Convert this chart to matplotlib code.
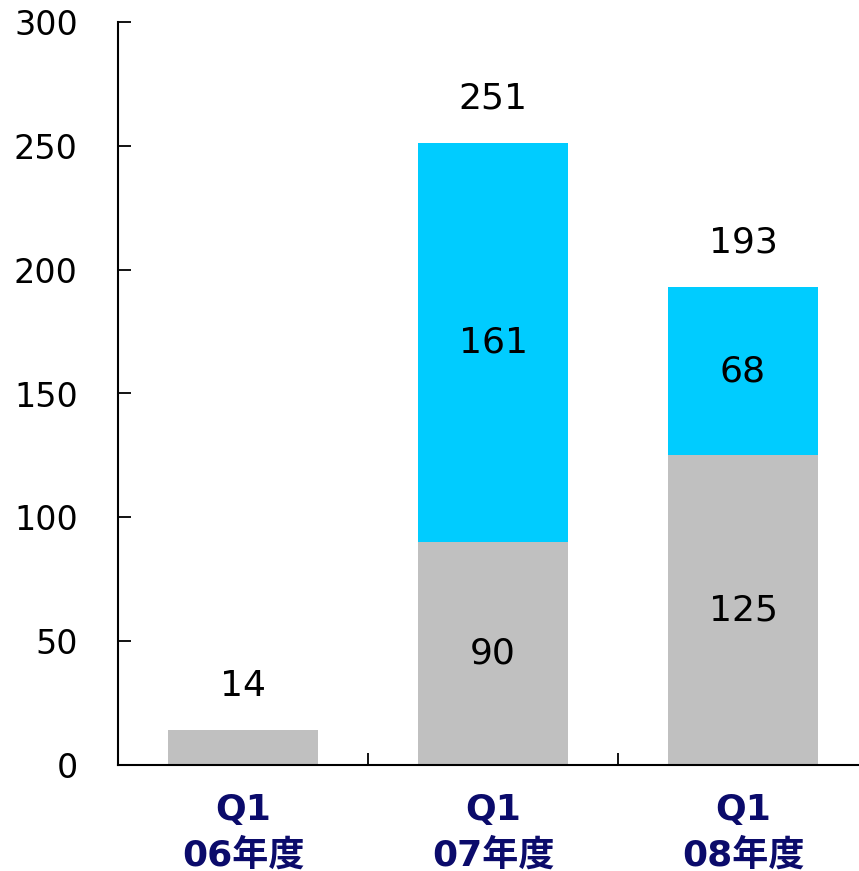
import matplotlib.pyplot as plt

plt.rcParams['font.family'] = ['DejaVu Sans', 'Noto Sans CJK JP']

categories = ["Q1\n06年度", "Q1\n07年度", "Q1\n08年度"]
gray_vals = [14, 90, 125]
cyan_vals = [0, 161, 68]
totals = [14, 251, 193]
yticks = [0, 50, 100, 150, 200, 250, 300]

fig = plt.figure(figsize=(8.59, 8.71), dpi=100)
ax = fig.add_axes([118 / 859, 106 / 871, 741 / 859, 743 / 871])

x = list(range(len(categories)))
ax.bar(x, gray_vals, width=0.6, color="#c0c0c0", zorder=2)
ax.bar(x, cyan_vals, width=0.6, bottom=gray_vals, color="#00ccff", zorder=2)

# labels inside segments and totals on top
for i in x:
    if gray_vals[i] > 0 and cyan_vals[i] > 0:
        ax.text(i, gray_vals[i] / 2, str(gray_vals[i]), ha="center", va="center", fontsize=26)
        ax.text(i, gray_vals[i] + cyan_vals[i] / 2, str(cyan_vals[i]), ha="center", va="center", fontsize=26)
    ax.annotate(str(totals[i]), (i, totals[i]), xytext=(0, 32), textcoords="offset points",
                ha="center", va="center", fontsize=26)

ax.set_xlim(-0.5, 2.464)
ax.set_ylim(0, 300)
ax.set_yticks(yticks)
ax.set_yticklabels([str(v) for v in yticks], fontsize=24)
ax.tick_params(axis="y", direction="in", length=9, width=1.3, pad=29)

ax.set_xticks(x)
ax.set_xticklabels(categories, fontsize=26, color="#0b0b6b", fontweight="bold", linespacing=1.4)
ax.tick_params(axis="x", which="major", length=0, pad=20)
ax.set_xticks([0.5, 1.5], minor=True)
ax.tick_params(axis="x", which="minor", direction="in", length=9, width=1.3)

for s in ["top", "right"]:
    ax.spines[s].set_visible(False)
for s in ["left", "bottom"]:
    ax.spines[s].set_linewidth(1.5)

fig.savefig("out.png", dpi=100)
